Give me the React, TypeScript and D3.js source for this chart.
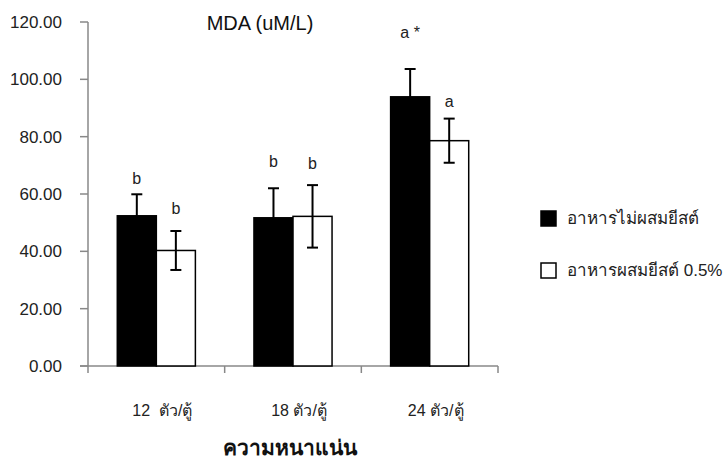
import React from "react";
import * as d3 from "d3";

// data
const categories = ["12  ตัว/ตู้", "18 ตัว/ตู้", "24 ตัว/ตู้"];
const seriesNames = ["อาหารไม่ผสมยีสต์", "อาหารผสมยีสต์ 0.5%"];
const noYeast = [52.4, 51.7, 93.9];
const noYeastErr = [7.5, 10.3, 9.7];
const yeast = [40.3, 52.2, 78.6];
const yeastErr = [6.8, 10.9, 7.7];
const noYeastLetters = ["b", "b", "a *"];
const yeastLetters = ["b", "b", "a"];
// where the letters sit, in y units
const noYeastLetterY = [65.6, 71.2, 116.5];
const yeastLetterY = [55.1, 70.8, 92.4];
const yTicks = [0, 20, 40, 60, 80, 100, 120];

const W = 725, H = 459;
const font = "'Liberation Sans', Arial, sans-serif";

export default function App() {
  const x = d3.scaleBand().domain(categories).range([88, 498]);
  const sub = d3.scaleBand().domain(["0", "1"]).range([0, x.bandwidth()]).paddingOuter(0.75);
  const y = d3.scaleLinear().domain([0, 120]).range([366, 22]);
  const fmt = d3.format(".2f");

  const series = [
    { vals: noYeast, err: noYeastErr, letters: noYeastLetters, ly: noYeastLetterY, fill: "#000" },
    { vals: yeast, err: yeastErr, letters: yeastLetters, ly: yeastLetterY, fill: "#fff" },
  ];

  return (
    <svg width={W} height={H} style={{ position: "absolute", left: 0, top: 0, background: "#fff" }}
      fontFamily={font}>
      {/* y axis */}
      <line x1={88} x2={88} y1={y(0)} y2={y(120)} stroke="#888" strokeWidth={1.5} />
      {yTicks.map(t => (
        <g key={t}>
          <line x1={80} x2={88} y1={y(t)} y2={y(t)} stroke="#888" strokeWidth={1.5} />
          <text x={62} y={y(t)} dy="0.35em" textAnchor="end" fontSize={17} fill="#222">{fmt(t)}</text>
        </g>
      ))}
      {/* x axis */}
      <line x1={80} x2={498} y1={y(0)} y2={y(0)} stroke="#888" strokeWidth={1.5} />
      {[...categories.map(c => x(c)!), 498].map((v, i) => (
        <line key={i} x1={v} x2={v} y1={y(0)} y2={y(0) + 7} stroke="#888" strokeWidth={1.5} />
      ))}
      {categories.map(c => (
        <text key={c} x={x(c)! + x.bandwidth() / 2 + 6} y={410} dy="0.35em" textAnchor="middle"
          fontSize={16} fill="#222" style={{ whiteSpace: "pre" }}>{c}</text>
      ))}
      {/* bars */}
      {series.map((s, si) => categories.map((c, i) => {
        const bx = x(c)! + sub(String(si))!;
        const bw = sub.bandwidth();
        const cx = bx + bw / 2;
        return (
          <g key={si + "-" + i}>
            <rect x={bx} y={y(s.vals[i])} width={bw} height={y(0) - y(s.vals[i])}
              fill={s.fill} stroke="#000" strokeWidth={1.5} />
            <line x1={cx} x2={cx} y1={y(s.vals[i] + s.err[i])} y2={y(s.vals[i] - s.err[i])}
              stroke="#000" strokeWidth={2} />
            <line x1={cx - 5.5} x2={cx + 5.5} y1={y(s.vals[i] + s.err[i])} y2={y(s.vals[i] + s.err[i])}
              stroke="#000" strokeWidth={2} />
            <line x1={cx - 5.5} x2={cx + 5.5} y1={y(s.vals[i] - s.err[i])} y2={y(s.vals[i] - s.err[i])}
              stroke="#000" strokeWidth={2} />
            <text x={cx} y={y(s.ly[i])} dy="0.35em" textAnchor="middle" fontSize={16} fill="#222">
              {s.letters[i]}
            </text>
          </g>
        );
      }))}
      {/* title */}
      <text x={260} y={23} dy="0.35em" textAnchor="middle" fontSize={20} fill="#111">MDA (uM/L)</text>
      {/* x title */}
      <text x={290} y={448} dy="0.35em" textAnchor="middle" fontSize={21} fontWeight="bold" fill="#111">ความหนาแน่น</text>
      {/* legend */}
      {seriesNames.map((n, i) => (
        <g key={n} transform={`translate(541, ${211 + i * 52})`}>
          <rect x={0} y={0} width={15} height={15} fill={series[i].fill} stroke="#000" strokeWidth={1.5} />
          <text x={26} y={7.5} dy="0.35em" fontSize={17} fill="#222">{n}</text>
        </g>
      ))}
    </svg>
  );
}
